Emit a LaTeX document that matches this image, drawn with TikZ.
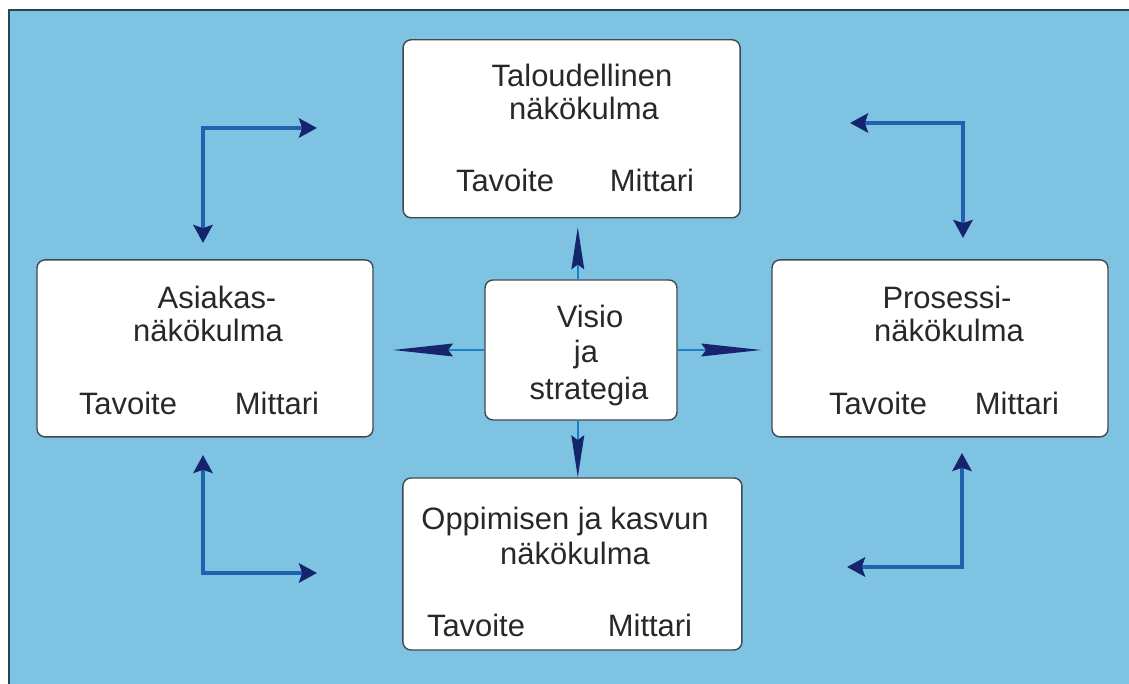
\documentclass[tikz,border=0pt]{standalone}
\usepackage{fontspec}
\setmainfont{Liberation Sans}
\usetikzlibrary{arrows.meta,positioning}

\definecolor{bgblue}{RGB}{126,196,226}
\definecolor{framecol}{RGB}{40,70,85}
\definecolor{boxline}{RGB}{64,72,80}
\definecolor{txtgray}{RGB}{40,40,40}
\definecolor{lineblue}{RGB}{28,128,196}
\definecolor{cornerblue}{RGB}{34,96,176}
\definecolor{navy}{RGB}{22,36,110}

\tikzset{
  view/.style={draw=boxline,line width=1pt,rounded corners=0.2cm,fill=white,inner sep=0pt},
  lbl/.style={anchor=base,inner sep=0pt,text=txtgray,font=\fontsize{22}{26}\selectfont},
  visarr/.style={draw=lineblue,line width=1.3pt,-{Stealth[length=#1,width=0.32cm,inset=0.12cm,color=navy]}},
  cornerarr/.style={draw=cornerblue,line width=2.6pt,{Stealth[length=0.45cm,width=0.48cm,inset=0.08cm,color=navy]}-{Stealth[length=0.45cm,width=0.48cm,inset=0.08cm,color=navy]}}
}

\begin{document}
\begin{tikzpicture}
\useasboundingbox (0,0) rectangle (28.225,17.1);
% background frame
\fill[bgblue] (0.225,0) rectangle (28.225,16.85);
\draw[framecol,line width=1.5pt] (0.225,0) -- (0.225,16.85) -- (28.225,16.85);

% boxes
\node[view,minimum width=8.425cm,minimum height=4.45cm] (tal) at (14.29,13.88) {};
\node[view,minimum width=8.4cm,minimum height=4.425cm] (asi) at (5.125,8.39) {};
\node[view,minimum width=8.4cm,minimum height=4.425cm] (pro) at (23.5,8.39) {};
\node[view,minimum width=8.475cm,minimum height=4.3cm] (opp) at (14.31,3.0) {};
\node[view,minimum width=4.8cm,minimum height=3.5cm] (vis) at (14.525,8.35) {};

% texts
\node[lbl] (tal_t1) at (14.55,14.925) {Taloudellinen};
\node[lbl] (tal_t2) at (14.6,14.1) {näkökulma};
\node[lbl] (tal_tav) at (12.625,12.3) {Tavoite};
\node[lbl] (tal_mit) at (16.3,12.3) {Mittari};

\node[lbl] (asi_t1) at (5.425,9.375) {Asiakas-};
\node[lbl] (asi_t2) at (5.2,8.55) {näkökulma};
\node[lbl] (asi_tav) at (3.2,6.725) {Tavoite};
\node[lbl] (asi_mit) at (6.925,6.725) {Mittari};

\node[lbl] (pro_t1) at (23.675,9.375) {Prosessi-};
\node[lbl] (pro_t2) at (23.725,8.55) {näkökulma};
\node[lbl] (pro_tav) at (21.95,6.725) {Tavoite};
\node[lbl] (pro_mit) at (25.425,6.725) {Mittari};

\node[lbl] (opp_t1) at (14.125,3.85) {Oppimisen ja kasvun};
\node[lbl] (opp_t2) at (14.375,2.975) {näkökulma};
\node[lbl] (opp_tav) at (11.9,1.175) {Tavoite};
\node[lbl] (opp_mit) at (16.25,1.175) {Mittari};

\node[lbl] (vis_t1) at (14.75,8.9) {Visio};
\node[lbl] (vis_t2) at (14.65,8.025) {ja};
\node[lbl] (vis_t3) at (14.725,7.1) {strategia};

% arrows from the centre
\draw[visarr=1.05cm,shorten >=0.22cm] ([xshift=-0.08cm]vis.north) -- ([xshift=-0.08cm]vis.north |- tal.south);
\draw[visarr=1.05cm] ([xshift=-0.08cm]vis.south) -- ([xshift=-0.08cm]vis.south |- opp.north);
\draw[visarr=1.5cm,shorten >=0.48cm] (vis.west) -- (vis.west -| asi.east);
\draw[visarr=1.5cm,shorten >=0.25cm] (vis.east) -- (vis.east -| pro.west);

% corner arrows
\coordinate (tl_c) at (5.075,13.9);
\coordinate (tl_r) at (7.925,13.9);
\coordinate (tl_d) at (5.075,11.025);
\coordinate (tr_c) at (24.075,14.025);
\coordinate (tr_l) at (21.25,14.025);
\coordinate (tr_d) at (24.075,11.15);
\coordinate (bl_c) at (5.075,2.775);
\coordinate (bl_u) at (5.075,5.725);
\coordinate (bl_r) at (7.925,2.775);
\coordinate (br_c) at (24.05,2.925);
\coordinate (br_u) at (24.05,5.775);
\coordinate (br_l) at (21.175,2.925);
\draw[cornerarr] (tl_d) -- (tl_c) -- (tl_r);
\draw[cornerarr] (tr_l) -- (tr_c) -- (tr_d);
\draw[cornerarr] (bl_u) -- (bl_c) -- (bl_r);
\draw[cornerarr] (br_u) -- (br_c) -- (br_l);
\end{tikzpicture}
\end{document}
